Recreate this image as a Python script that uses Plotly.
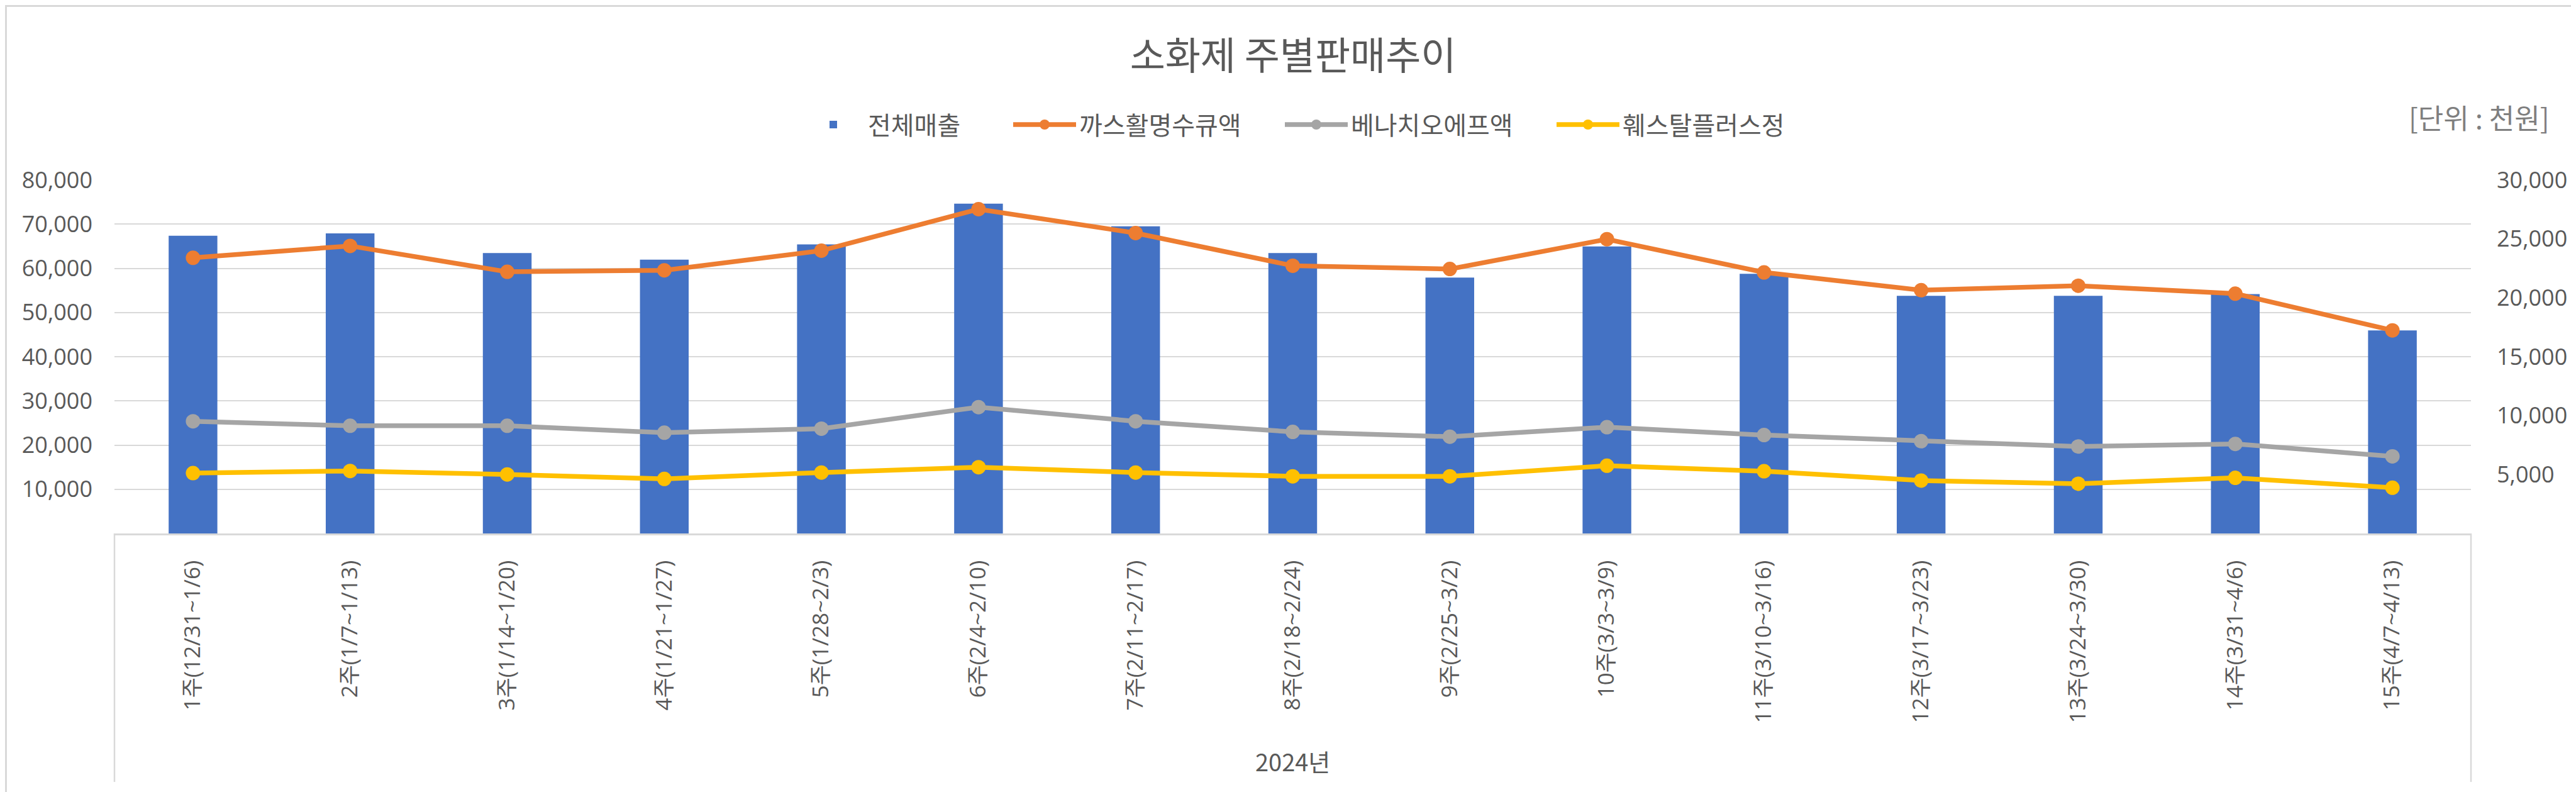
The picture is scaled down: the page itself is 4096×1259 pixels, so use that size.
import plotly.graph_objects as go

# ---- data ----
categories = ["1주(12/31~1/6)", "2주(1/7~1/13)", "3주(1/14~1/20)", "4주(1/21~1/27)",
              "5주(1/28~2/3)", "6주(2/4~2/10)", "7주(2/11~2/17)", "8주(2/18~2/24)",
              "9주(2/25~3/2)", "10주(3/3~3/9)", "11주(3/10~3/16)", "12주(3/17~3/23)",
              "13주(3/24~3/30)", "14주(3/31~4/6)", "15주(4/7~4/13)"]
total_sales = [67350, 67890, 63440, 61940, 65420, 74620, 69510, 63440,
               57910, 64940, 58750, 53760, 53760, 54180, 45940]
gas_hwal = [23390, 24400, 22200, 22330, 24000, 27520, 25490, 22720,
            22440, 24970, 22150, 20640, 21020, 20350, 17230]
benachio = [9520, 9140, 9140, 8550, 8890, 10720, 9520, 8620,
            8210, 9020, 8350, 7830, 7380, 7600, 6540]
festal = [5120, 5300, 5010, 4630, 5170, 5620, 5170, 4850,
          4850, 5750, 5280, 4490, 4220, 4720, 3880]
left_ticks = [10000, 20000, 30000, 40000, 50000, 60000, 70000, 80000]
right_ticks = [5000, 10000, 15000, 20000, 25000, 30000]

# ---- layout constants ----
W, H = 4096, 1259
ML, MR, MT, MB = 174, 175, 278, 419
PW, PH = W - ML - MR, H - MT - MB

def px_x(p):
    return (p - ML) / PW

def px_y(p):
    return (H - MB - p) / PH

TXT = "#595959"
GRID = "#D9D9D9"
FONT = "Open Sans, Noto Sans CJK KR, sans-serif"
KFONT = "Noto Sans CJK KR, sans-serif"

fig = go.Figure()
fig.add_trace(go.Bar(x=categories, y=total_sales, name="전체매출", legend="legend",
                     showlegend=True,
                     marker=dict(color="#4472C4", line=dict(width=0))))
line_series = [("까스활명수큐액", gas_hwal, "#ED7D31"),
               ("베나치오에프액", benachio, "#A5A5A5"),
               ("훼스탈플러스정", festal, "#FFC000")]
for name, vals, col in line_series:
    fig.add_trace(go.Scatter(x=categories, y=vals, name=name, yaxis="y2", legend="legend2",
                             showlegend=True, mode="lines+markers",
                             line=dict(color=col, width=7.5),
                             marker=dict(color=col, size=23, line=dict(width=0))))

legend_common = dict(orientation="h", xanchor="left", y=px_y(190), yanchor="middle",
                     font=dict(family=KFONT, size=40, color=TXT),
                     itemwidth=100, tracegroupgap=0, bgcolor="rgba(0,0,0,0)")

fig.update_layout(
    width=W, height=H,
    margin=dict(l=ML, r=MR, t=MT, b=MB),
    paper_bgcolor="white", plot_bgcolor="white",
    font=dict(family=FONT, size=35, color=TXT),
    showlegend=True,
    bargap=0.69,
    title=dict(text="소화제 주별판매추이", x=0.5, xanchor="center",
               y=1 - 81.5 / H, yanchor="middle",
               font=dict(family=KFONT, size=61, color=TXT)),
    legend=dict(x=px_x(1262), **legend_common),
    legend2=dict(x=px_x(1598), entrywidth=317, entrywidthmode="pixels", **legend_common),
    xaxis=dict(type="category", range=[-0.5, 14.5], showgrid=False, showline=True,
               linecolor=GRID, linewidth=2.5, ticks="", tickangle=-90,
               ticklabelstandoff=26, tickfont=dict(size=35, color=TXT)),
    yaxis=dict(range=[0, 80000], tickvals=left_ticks, tickformat=",",
               showgrid=True, gridcolor=GRID, gridwidth=2, zeroline=False,
               showline=False, ticks="", ticklabelstandoff=34,
               tickfont=dict(size=36, color=TXT)),
    yaxis2=dict(range=[0, 30000], tickvals=right_ticks, tickformat=",",
                overlaying="y", side="right", showgrid=False, zeroline=False,
                showline=False, ticks="", ticklabelstandoff=40,
                tickfont=dict(size=36, color=TXT)),
    hovermode=False,
)

shapes = [
    # category box vertical dividers
    dict(type="line", xref="paper", yref="paper", x0=0, x1=0, y0=0, y1=px_y(1235),
         line=dict(color=GRID, width=2.5)),
    dict(type="line", xref="paper", yref="paper", x0=1, x1=1, y0=0, y1=px_y(1235),
         line=dict(color=GRID, width=2.5)),
    # chart border
    dict(type="rect", xref="paper", yref="paper", x0=px_x(1.5), x1=px_x(W - 1.5),
         y0=px_y(H - 1.5), y1=px_y(1.5), line=dict(color=GRID, width=3), layer="below"),
]
fig.update_layout(shapes=shapes)

fig.add_annotation(text="2024년", xref="paper", yref="paper", x=0.5, y=px_y(1201),
                   xanchor="center", yanchor="middle", showarrow=False,
                   font=dict(family=KFONT, size=38, color=TXT))
fig.add_annotation(text="[단위 : 천원]", xref="paper", yref="paper", x=px_x(4048), y=px_y(178),
                   xanchor="right", yanchor="middle", showarrow=False,
                   font=dict(family=KFONT, size=44, color="#7F7F7F"))

fig.write_html("out.html")
